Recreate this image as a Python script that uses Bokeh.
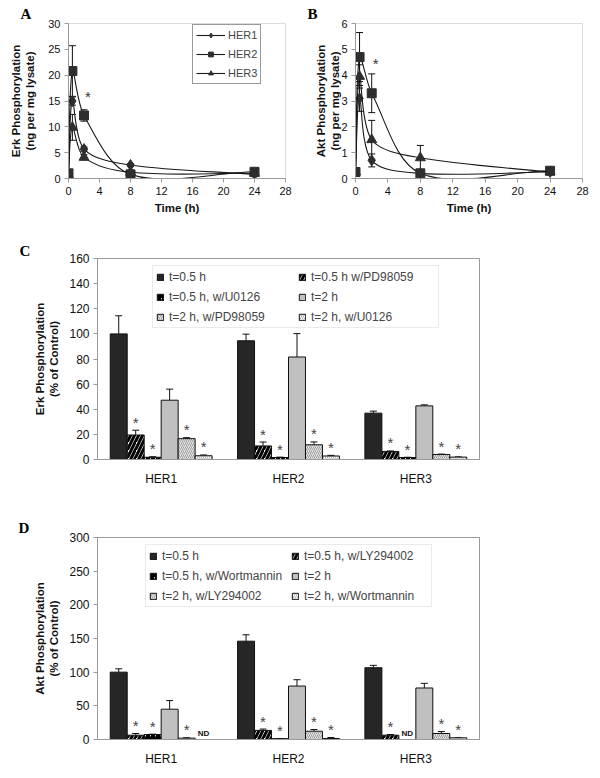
import math
from bokeh.plotting import figure
from bokeh.models import (ColumnDataSource, Whisker, TeeHead, Legend, LegendItem,
                          SingleIntervalTicker, Range1d, FactorRange)
from bokeh.layouts import column, row
from bokeh.transform import dodge
from bokeh.embed import file_html
from bokeh.resources import INLINE
from bokeh.core.properties import value

FONT = "Liberation Sans"
SERIF = "Liberation Serif"

# ---------------- data: panels A and B (time course) ----------------
time_h = [0, 0.5, 2, 8, 24]
her_names = ["HER1", "HER2", "HER3"]

erk_her1 = [0.8, 15.0, 5.7, 2.6, 0.8]
erk_her2 = [1.0, 20.8, 12.2, 0.8, 1.3]
erk_her3 = [0.6, 9.9, 4.1, 1.2, 1.0]
erk_her1_err = [0.3, 0.8, 0.4, 0.3, 0.2]
erk_her2_err = [0.3, 4.9, 1.1, 0.2, 0.3]
erk_her3_err = [0.2, 2.5, 0.5, 0.3, 0.2]
erk_her2_sig = ["", "", "*", "", ""]

akt_her1 = [0.25, 3.1, 0.7, 0.2, 0.25]
akt_her2 = [0.25, 4.7, 3.3, 0.2, 0.3]
akt_her3 = [0.25, 3.95, 1.5, 0.8, 0.25]
akt_her1_err = [0.05, 0.5, 0.25, 0.05, 0.05]
akt_her2_err = [0.05, 0.95, 0.75, 0.05, 0.08]
akt_her3_err = [0.05, 0.45, 0.75, 0.48, 0.05]
akt_her2_sig = ["", "", "*", "", ""]

# ---------------- data: panels C and D (% of control) ----------------
erk_series = ["t=0.5 h", "t=0.5 h w/PD98059", "t=0.5 h, w/U0126",
              "t=2 h", "t=2 h, w/PD98059", "t=2 h, w/U0126"]
erk_pct_her1 = [100, 19.5, 1.8, 47.2, 16.6, 3.0]
erk_pct_her2 = [94.5, 10.8, 1.6, 81.6, 11.7, 2.8]
erk_pct_her3 = [36.9, 6.4, 1.6, 42.7, 4.0, 1.9]
erk_pct_her1_err = [14.4, 3.8, 0.4, 8.8, 0.8, 0.6]
erk_pct_her2_err = [5.3, 3.1, 0.3, 18.6, 2.3, 0.5]
erk_pct_her3_err = [1.6, 0.4, 0.2, 0.8, 0.3, 0.2]
erk_pct_her1_marks = ["", "*", "*", "", "*", "*"]
erk_pct_her2_marks = ["", "*", "*", "", "*", "*"]
erk_pct_her3_marks = ["", "*", "*", "", "*", "*"]

akt_series = ["t=0.5 h", "t=0.5 h, w/LY294002", "t=0.5 h, w/Wortmannin",
              "t=2 h", "t=2 h, w/LY294002", "t=2 h, w/Wortmannin"]
akt_pct_her1 = [100, 6.4, 7.4, 45.0, 2.0, 0]
akt_pct_her2 = [146, 13.5, 1.2, 79.4, 12.3, 1.5]
akt_pct_her3 = [106.6, 6.4, 0, 76.5, 8.9, 2.5]
akt_pct_her1_err = [5.0, 2.5, 0.5, 12.8, 0.6, 0]
akt_pct_her2_err = [9.5, 2.0, 0.3, 9.4, 2.5, 1.5]
akt_pct_her3_err = [3.5, 1.0, 0, 6.9, 2.9, 0.5]
akt_pct_her1_marks = ["", "*", "*", "", "*", "ND"]
akt_pct_her2_marks = ["", "*", "*", "", "*", "*"]
akt_pct_her3_marks = ["", "*", "ND", "", "*", "*"]


def style_axes(p, tick_size="11px", title_size="11.5px"):
    for ax in p.axis:
        ax.axis_line_color = "#9a9a9a"
        ax.major_tick_line_color = "#9a9a9a"
        ax.major_tick_in = 0
        ax.major_tick_out = 4
        ax.minor_tick_line_color = None
        ax.major_label_text_font = FONT
        ax.major_label_text_font_size = tick_size
        ax.major_label_text_color = "#111111"
        ax.axis_label_text_font = FONT
        ax.axis_label_text_font_style = "bold"
        ax.axis_label_text_font_size = title_size
        ax.axis_label_text_color = "#111111"
        ax.axis_label_standoff = 6
        ax.major_label_standoff = 4
    p.grid.visible = False


def smooth_segments(xs, ys, sx, sy):
    """Bezier segments through the points (smoothed line), control points from neighbours."""
    n = len(xs)
    P = [(x * sx, y * sy) for x, y in zip(xs, ys)]

    def d(a, b):
        return math.hypot(P[a][0] - P[b][0], P[a][1] - P[b][1])

    out = {k: [] for k in ("x0", "y0", "x1", "y1", "cx0", "cy0", "cx1", "cy1")}
    t = 1.0 / 3.0
    for i in range(n - 1):
        im1 = max(i - 1, 0)
        ip2 = min(i + 2, n - 1)
        dp, dc, dn = d(im1, i), d(i, i + 1), d(i + 1, ip2)
        fb = t * dc / (dp + dc) if dp + dc > 0 else t
        fa = t * dc / (dc + dn) if dc + dn > 0 else t
        out["x0"].append(xs[i]); out["y0"].append(ys[i])
        out["x1"].append(xs[i + 1]); out["y1"].append(ys[i + 1])
        out["cx0"].append(xs[i] + fb * (xs[i + 1] - xs[im1]))
        out["cy0"].append(ys[i] + fb * (ys[i + 1] - ys[im1]))
        out["cx1"].append(xs[i + 1] - fa * (xs[ip2] - xs[i]))
        out["cy1"].append(ys[i + 1] - fa * (ys[ip2] - ys[i]))
    return out


def letter_title(p, letter, offset, standoff):
    p.title.text = letter
    p.title.align = "left"
    p.title.offset = offset
    p.title.standoff = standoff
    p.title.text_font = SERIF
    p.title.text_font_style = "bold"
    p.title.text_font_size = "15px"
    p.title.text_color = "black"


def time_panel(ytitle, series, errs, sig, ymax, ystep, w, h, borders, legend,
               ytitle_standoff, star_dy):
    bl, br, bt, bb = borders
    p = figure(width=w, height=h, output_backend="svg", toolbar_location=None,
               x_range=Range1d(0, 28), y_range=Range1d(0, ymax),
               min_border_left=bl, min_border_right=br, min_border_top=bt, min_border_bottom=bb,
               x_axis_label="Time (h)", y_axis_label=ytitle)
    p.outline_line_color = "#dcdcdc"
    p.xaxis.ticker = SingleIntervalTicker(interval=4)
    p.yaxis.ticker = SingleIntervalTicker(interval=ystep)
    style_axes(p)
    p.yaxis.axis_label_standoff = ytitle_standoff
    p.xaxis.axis_label_standoff = 4
    fw = w - bl - br
    fh = h - bt - bb
    sx, sy = fw / 28.0, fh / float(ymax)
    markers = ["diamond", "square", "triangle"]
    sizes = [11, 9, 10]
    items = []
    for k, (ys, es) in enumerate(zip(series, errs)):
        seg = ColumnDataSource(smooth_segments(time_h, ys, sx, sy))
        rl = p.bezier(x0="x0", y0="y0", x1="x1", y1="y1", cx0="cx0", cy0="cy0",
                      cx1="cx1", cy1="cy1", source=seg, line_color="#1a1a1a", line_width=1.1)
        src = ColumnDataSource(dict(t=time_h, y=ys,
                                    hi=[a + b for a, b in zip(ys, es)],
                                    lo=[a - b for a, b in zip(ys, es)]))
        wk = Whisker(base="t", upper="hi", lower="lo", source=src, dimension="height",
                     line_color="#111111", line_width=1,
                     upper_head=TeeHead(size=7, line_color="#111111", line_width=1),
                     lower_head=TeeHead(size=7, line_color="#111111", line_width=1))
        wk.level = "underlay"
        p.add_layout(wk)
        rm = p.scatter(x="t", y="y", source=src, marker=markers[k], size=sizes[k],
                       fill_color="#2e2e2e", line_color="#2e2e2e")
        items.append(LegendItem(label=her_names[k], renderers=[rl, rm]))
    ys2, es2 = series[1], errs[1]
    ssrc = ColumnDataSource(dict(t=time_h, top=[a + b for a, b in zip(ys2, es2)], m=sig))
    p.text(x="t", y="top", text="m", source=ssrc, text_font=value(FONT),
           text_font_size="15px", text_color="#333333", text_align="center",
           text_baseline="alphabetic", x_offset=4, y_offset=star_dy)
    if legend:
        lg = Legend(items=items, location=(124, 94))
        lg.label_text_font = FONT
        lg.label_text_font_size = "11px"
        lg.label_height = 14
        lg.glyph_height = 12
        lg.glyph_width = 29
        lg.label_standoff = 3
        lg.spacing = 5
        lg.padding = 3
        lg.border_line_color = "#333333"
        lg.border_line_width = 1
        lg.background_fill_alpha = 1
        p.add_layout(lg)
    return p


pA = time_panel("Erk Phosphorylation\n(ng per mg lysate)",
                [erk_her1, erk_her2, erk_her3], [erk_her1_err, erk_her2_err, erk_her3_err],
                erk_her2_sig, 30, 5, 300, 218, (68, 15, 23, 40), True, 9, -13)
letter_title(pA, "A", -48, 4)
pB = time_panel("Akt Phosphorylation\n(ng per mg lysate)",
                [akt_her1, akt_her2, akt_her3], [akt_her1_err, akt_her2_err, akt_her3_err],
                akt_her2_sig, 6, 1, 292, 218, (55, 10, 23, 38), False, -3, -10)
letter_title(pB, "B", -48, 4)


def bar_styles():
    return [
        dict(fill_color="#262626"),
        dict(fill_color="white", hatch_pattern="/", hatch_color="black", hatch_weight=3, hatch_scale=8),
        dict(fill_color="white", hatch_pattern="/", hatch_color="black", hatch_weight=2.5, hatch_scale=5),
        dict(fill_color="#c0c0c0"),
        dict(fill_color="#e6e6e6", hatch_pattern="/", hatch_color="#9a9a9a", hatch_weight=1, hatch_scale=4),
        dict(fill_color="white", hatch_pattern="\\", hatch_color="#b0b0b0", hatch_weight=1, hatch_scale=4),
    ]


def bar_panel(ytitle, names, vals, errs, marks, ymax, ystep, w, h, borders, leg_loc):
    bl, br, bt, bb = borders
    p = figure(width=w, height=h, output_backend="svg", toolbar_location=None,
               x_range=FactorRange(factors=her_names, range_padding=0, factor_padding=0),
               y_range=Range1d(0, ymax),
               min_border_left=bl, min_border_right=br, min_border_top=bt, min_border_bottom=bb,
               y_axis_label=ytitle)
    p.outline_line_color = "#9a9a9a"
    p.yaxis.ticker = SingleIntervalTicker(interval=ystep)
    style_axes(p, tick_size="12px")
    p.xaxis.major_tick_line_color = None
    p.xaxis.major_label_standoff = 8
    n = len(names)
    bw = 1.0 / 7.5
    styles = bar_styles()
    rends = []
    for j in range(n):
        off = (j - (n - 1) / 2.0) * bw
        v = [vals[c][j] for c in range(3)]
        e = [errs[c][j] for c in range(3)]
        m = [marks[c][j] for c in range(3)]
        src = ColumnDataSource(dict(cat=her_names, val=v, hi=[a + b for a, b in zip(v, e)],
                                    star=[s if s == "*" else "" for s in m],
                                    nd=[s if s == "ND" else "" for s in m]))
        xs = dodge("cat", off, range=p.x_range)
        r = p.vbar(x=xs, top="val", width=bw, source=src, line_color="#111111",
                   line_width=1, **styles[j])
        rends.append(r)
        wk = Whisker(base=dodge("cat", off, range=p.x_range), upper="hi", lower="val",
                     source=src, dimension="height", line_color="#111111", line_width=1,
                     upper_head=TeeHead(size=7, line_color="#111111", line_width=1),
                     lower_head=None)
        p.add_layout(wk)
        p.text(x=dodge("cat", off, range=p.x_range), y="hi", text="star", source=src,
               text_font=value(FONT), text_font_size="15px", text_color="#444444",
               text_align="center", text_baseline="alphabetic", y_offset=-8)
        p.text(x=dodge("cat", off, range=p.x_range), y="hi", text="nd", source=src,
               text_font=value(FONT), text_font_size="8px", text_font_style="bold",
               text_color="#111111", text_align="center", text_baseline="alphabetic",
               y_offset=-6)
    # legend fills column by column: series 0,2,4 in the first column, 1,3,5 in the second
    order = [0, 2, 4, 1, 3, 5]
    items = [LegendItem(label=names[j], renderers=[rends[j]]) for j in order]
    lg = Legend(items=items, location=leg_loc, ncols=2)
    lg.label_text_font = FONT
    lg.label_text_font_size = "12px"
    lg.label_height = 15
    lg.label_width = 124
    lg.glyph_height = 8
    lg.glyph_width = 8
    lg.label_standoff = 5
    lg.spacing = 5
    lg.padding = 3
    lg.border_line_color = "#d6d6d6"
    lg.border_line_width = 1
    lg.background_fill_alpha = 1
    p.add_layout(lg)
    return p


pC = bar_panel("Erk Phosphorylation\n(% of Control)", erk_series,
               [erk_pct_her1, erk_pct_her2, erk_pct_her3],
               [erk_pct_her1_err, erk_pct_her2_err, erk_pct_her3_err],
               [erk_pct_her1_marks, erk_pct_her2_marks, erk_pct_her3_marks],
               160, 20, 592, 272, (96, 113, 40, 31), (55, 131))
letter_title(pC, "C", -78, 0)
pD = bar_panel("Akt Phosphorylation\n(% of Control)", akt_series,
               [akt_pct_her1, akt_pct_her2, akt_pct_her3],
               [akt_pct_her1_err, akt_pct_her2_err, akt_pct_her3_err],
               [akt_pct_her1_marks, akt_pct_her2_marks, akt_pct_her3_marks],
               300, 50, 592, 278, (97, 113, 47, 29), (48, 132))
letter_title(pD, "D", -79, 4)

layout = column(row(pA, pB), pC, pD)
open("out.html", "w").write(file_html(layout, INLINE))
